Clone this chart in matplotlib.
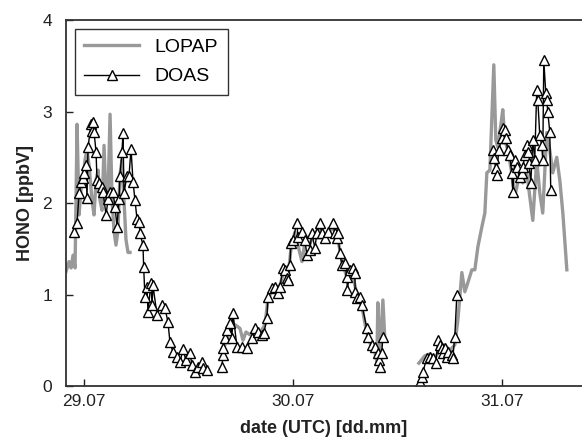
import numpy as np
import matplotlib
matplotlib.use('Agg')
import matplotlib.pyplot as plt

plt.rcParams['font.family'] = ['Liberation Sans', 'DejaVu Sans']

# time in hours since 29.07 00:00 UTC, HONO in ppbV, nan = gap
lopap_t = [-2.07, -1.72, -1.49, -1.26, -1.03, -0.80, -0.57, -0.34, -0.11, 0.11, 0.34, 0.57,
           0.92, 1.15, 1.38, 1.61, 1.84, 2.07, 2.30, 2.53, 2.76, 2.99, 3.22, 3.44, 3.67, 3.90,
           4.13, 4.36, 4.59, 4.82, 5.05, 5.28, np.nan,
           16.19, 16.76, 17.34, 17.91, 18.26, 18.60, 19.06, 19.63, 20.21, 20.78, 21.12, 21.58,
           22.04, 22.50, 22.96, 23.42, 23.76, 24.22, 24.57, 25.03, 25.37, 25.83, 26.29, 26.75,
           27.21, 27.67, 28.13, 28.59, 29.04, 29.39, 29.85, 30.31, 30.77, 31.23, 31.68, 32.03,
           32.37, 32.72, 33.06, 33.41, 33.64, 33.75, 33.98, 34.33, 34.56, np.nan,
           38.46, 39.15, 39.72, 40.30, 40.87, 41.44, 42.02, 42.59, 42.94, 43.40, 43.74, 44.09,
           44.55, 44.89, 45.24, 45.70, 46.04, 46.27, 46.62, 47.07, 47.30, 47.53, 47.87, 48.10,
           48.33, 48.68, 49.13, 49.48, 50.05, 50.40, 50.86, 51.20, 51.55, 52.00, 52.35, 52.69,
           53.15, 53.50, 53.84, 54.30, 54.65, 55.00, 55.46]
lopap_v = [1.25, 1.36, 1.29, 1.43, 1.29, 2.86, 1.87, 2.16, 2.25, 2.47, 2.58, 2.42,
           2.03, 1.87, 2.25, 2.36, 2.03, 1.92, 2.63, 2.03, 2.09, 2.97, 2.03, 1.70, 1.54, 1.70,
           2.31, 2.47, 2.03, 1.60, 1.46, 1.46, np.nan,
           0.45, 0.61, 0.67, 0.63, 0.50, 0.59, 0.56, 0.61, 0.58, 0.67, 0.94, 1.05,
           1.07, 1.10, 1.25, 1.18, 1.49, 1.68, 1.54, 1.36, 1.57, 1.54, 1.62, 1.70,
           1.73, 1.62, 1.68, 1.73, 1.64, 1.49, 1.29, 1.16, 1.25, 1.05, 0.94, 0.81,
           0.63, 0.50, 0.42, 0.37, 0.26, 0.91, 0.34, 0.94, 0.50, np.nan,
           0.25, 0.33, 0.35, 0.31, 0.39, 0.45, 0.39, 0.45, 0.72, 1.24, 1.03, 1.13,
           1.27, 1.27, 1.52, 1.74, 1.89, 2.33, 2.36, 3.51, 2.69, 2.61, 2.85, 3.02,
           2.69, 2.58, 2.33, 2.07, 2.33, 2.22, 2.33, 2.07, 1.81, 2.47, 2.11, 1.89,
           2.77, 2.58, 2.33, 2.50, 2.25, 1.89, 1.27]

doas_t = [-1.15, -0.80, -0.57, -0.34, -0.11, 0.00, 0.23, 0.34, 0.46, 0.80, 0.92, 1.03, 1.15,
          1.38, 1.49, 1.72, 2.07, 2.18, 2.53, 2.76, 2.98, 3.33, 3.56, 3.79, 4.02, 4.13, 4.36,
          4.48, 4.59, 4.94, 5.17, 5.40, 5.63, 5.86, 6.08, 6.31, 6.43, 6.77, 6.85, 7.00, 7.23,
          7.35, 7.69, 7.81, 7.92, 8.38, 8.95, 9.30, 9.64, 9.87, 10.22, 10.68, 11.02, 11.37,
          11.71, 12.17, 12.40, 12.74, 13.09, 13.55, 13.66, 14.12, np.nan,
          15.84, 15.96, 16.00, 16.19, 16.42, 16.76, 16.99, 17.11, 17.56, 18.14, 18.71, 19.29,
          19.63, 19.98, 20.43, 20.66, 21.01, 21.12, 21.58, 21.93, 22.27, 22.50, 22.85, 23.07,
          23.30, 23.42, 23.65, 23.76, 23.99, 24.45, 24.57, 25.03, 25.37, 25.60, 25.94, 26.17,
          26.52, 26.75, 27.09, 27.32, 27.67, 28.01, 28.59, 28.81, 29.04, 29.16, 29.39, 29.62,
          29.96, 30.19, 30.25, 30.54, 30.88, 31.11, 31.15, 31.34, 31.68, 31.91, 32.49, 32.60,
          33.06, 33.41, 33.75, 33.86, 33.98, 34.20, 34.33, np.nan,
          38.57, 38.80, 38.92, 39.38, 39.72, 40.07, 40.41, 40.64, 40.87, 41.10, 41.21, 41.44,
          41.67, 41.79, 42.25, 42.36, 42.59, 42.82, np.nan,
          46.95, 47.07, 47.30, 47.41, 47.64, 47.99, 48.10, 48.33, 48.45, 48.68, 48.90, 49.13,
          49.25, 49.48, 49.71, 50.05, 50.28, 50.40, 50.63, 50.86, 50.97, 51.09, 51.32, 51.55,
          51.77, 52.00, 52.12, 52.35, 52.58, 52.69, 52.81, 53.04, 53.15, 53.27, 53.50, 53.61]
doas_v = [1.68, 1.78, 2.11, 2.23, 2.27, 2.33, 2.42, 2.05, 2.61, 2.86, 2.79, 2.89, 2.78,
          2.56, 2.25, 2.22, 2.17, 2.12, 1.87, 2.04, 2.12, 2.12, 1.96, 1.74, 2.04, 2.30, 2.56,
          2.77, 2.11, 2.30, 2.30, 2.59, 2.23, 2.03, 1.83, 1.79, 1.67, 1.54, 1.30, 0.97, 1.08,
          0.81, 1.13, 0.89, 1.10, 0.78, 0.89, 0.85, 0.70, 0.48, 0.37, 0.32, 0.26, 0.40,
          0.28, 0.36, 0.23, 0.15, 0.21, 0.26, 0.20, 0.17, np.nan,
          0.21, 0.34, 0.42, 0.52, 0.61, 0.69, 0.52, 0.80, 0.43, 0.43, 0.42, 0.52,
          0.63, 0.59, 0.56, 0.58, 0.74, 0.97, 1.07, 1.08, 1.02, 1.08, 1.29, 1.27,
          1.18, 1.16, 1.32, 1.56, 1.60, 1.78, 1.63, 1.68, 1.60, 1.43, 1.49, 1.67,
          1.51, 1.67, 1.78, 1.67, 1.62, 1.68, 1.78, 1.67, 1.62, 1.67, 1.45, 1.32,
          1.34, 1.19, 1.05, 1.27, 1.29, 1.24, 1.03, 0.96, 0.97, 0.89, 0.63, 0.54,
          0.45, 0.43, 0.36, 0.28, 0.21, 0.36, 0.54, np.nan,
          0.04, 0.10, 0.15, 0.31, 0.32, 0.31, 0.25, 0.50, 0.45, 0.42, 0.36, 0.42,
          0.32, 0.37, 0.34, 0.31, 0.54, 0.99, np.nan,
          2.58, 2.49, 2.38, 2.31, 2.58, 2.71, 2.82, 2.80, 2.71, 2.58, 2.52, 2.33,
          2.12, 2.47, 2.39, 2.28, 2.33, 2.39, 2.52, 2.63, 2.56, 2.44, 2.22, 2.69,
          2.47, 3.23, 3.13, 2.74, 2.63, 2.47, 3.56, 3.20, 3.13, 2.99, 2.78, 2.14]

x_ticks = [0, 24, 48]
x_labels = ['29.07', '30.07', '31.07']
y_ticks = [0, 1, 2, 3, 4]

fig = plt.figure(figsize=(5.82, 4.44), dpi=100)
ax = fig.add_axes([0.1134, 0.1306, 0.8866, 0.8243])

ax.plot(lopap_t, lopap_v, color='#999999', lw=2.4, label='LOPAP')
ax.plot(doas_t, doas_v, color='black', lw=1.0, marker='^', markersize=7,
        markerfacecolor='white', markeredgecolor='black', markeredgewidth=1.0, label='DOAS')

ax.set_xlim(-2.07, 57.2)
ax.set_ylim(0, 4)
ax.set_xticks(x_ticks)
ax.set_xticklabels(x_labels)
ax.set_yticks(y_ticks)
ax.tick_params(direction='in', length=5, width=1, labelsize=12.5, colors='#222222')
ax.tick_params(axis='x', pad=6)
ax.tick_params(axis='y', pad=10)
for s in ['left', 'top', 'bottom']:
    ax.spines[s].set_linewidth(1.3)
    ax.spines[s].set_color('#333333')
ax.spines['right'].set_visible(False)

ax.set_xlabel('date (UTC) [dd.mm]', fontsize=13, fontweight='bold', color='#222222', labelpad=8)
ax.set_ylabel('HONO [ppbV]', fontsize=13, fontweight='bold', color='#222222', labelpad=6)

leg = ax.legend(loc='upper left', fontsize=14, frameon=True, fancybox=False,
                edgecolor='black', handlelength=2.8, handletextpad=0.8,
                borderaxespad=0.45, borderpad=0.5, labelspacing=0.6)
leg.get_frame().set_linewidth(1.0)

fig.savefig('out.png', dpi=100)
